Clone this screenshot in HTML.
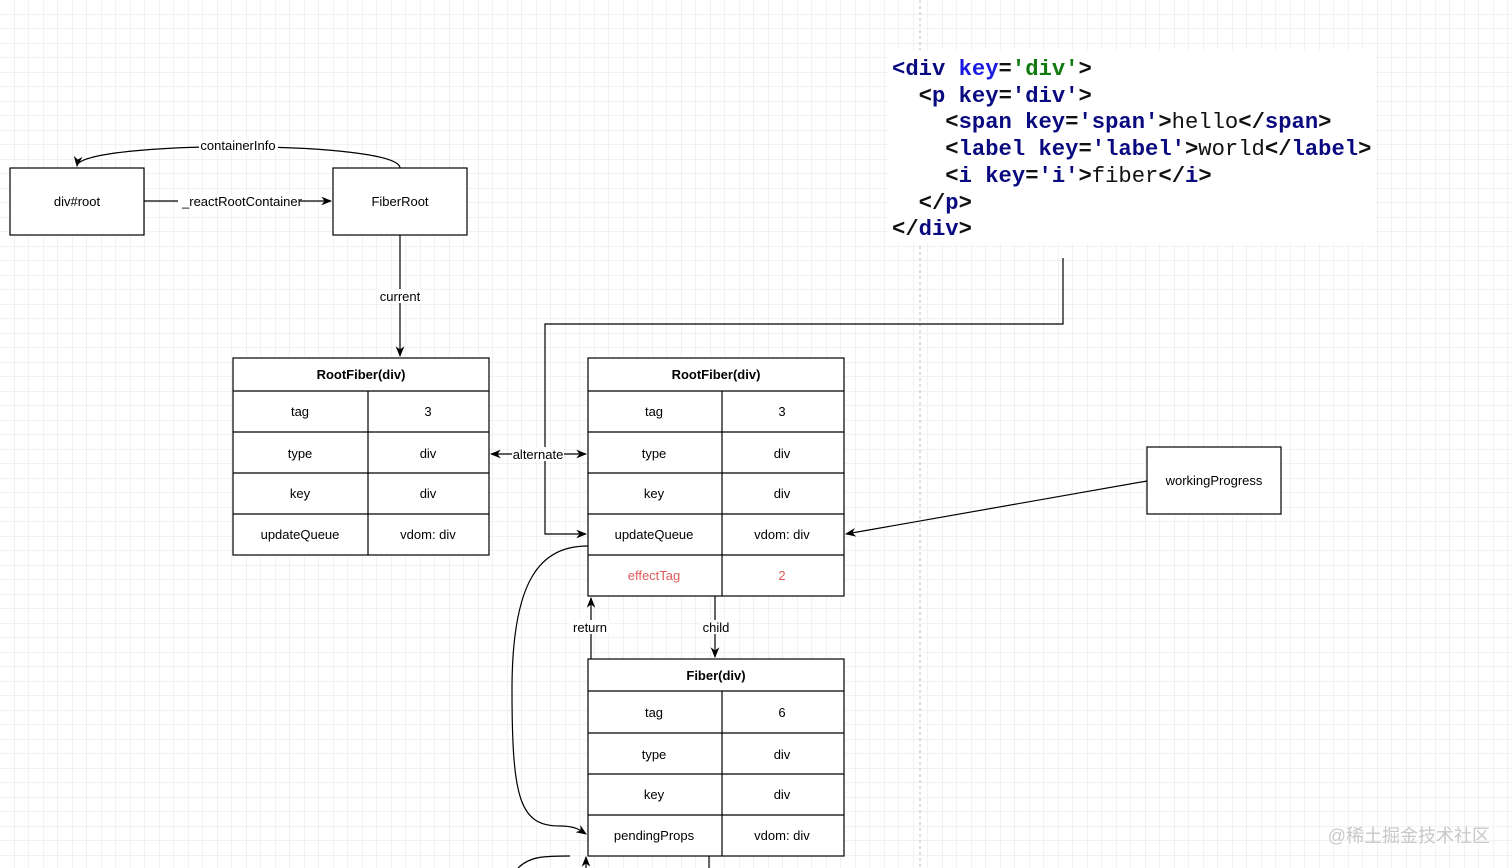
<!DOCTYPE html>
<html><head><meta charset="utf-8"><style>
html,body{margin:0;padding:0;width:1512px;height:868px;overflow:hidden;background:#fff;}
svg{display:block;font-family:"Liberation Sans",sans-serif;}
.code{position:absolute;left:888px;top:50px;width:488px;height:193px;background:#fff;font-family:"Liberation Mono",monospace;font-size:22.2px;font-weight:bold;line-height:26.7px;color:#111;white-space:pre;padding-top:7px;box-sizing:border-box;padding-left:4px}
.t{color:#0a0a80}.k{color:#1a1ae0}.g{color:#107a10}.n{font-weight:normal;color:#111}
.wm{position:absolute;right:22px;top:822px;font-family:"Liberation Sans","Noto Sans CJK SC",sans-serif;font-size:18px;color:#c8c8c8}
</style></head><body>
<svg width="1512" height="868" xmlns="http://www.w3.org/2000/svg">
<defs>
<pattern id="g" width="14.5" height="14.5" patternUnits="userSpaceOnUse"><path d="M14.5 0V14.5H0" fill="none" stroke="#e6e6e6" stroke-width="1"/></pattern>
<marker id="a" viewBox="0 0 10 10" refX="9" refY="5" markerWidth="9" markerHeight="9" orient="auto-start-reverse"><path d="M0,1 L10,5 L0,9 L3,5z" fill="#000"/></marker>
</defs>
<rect width="1512" height="868" fill="url(#g)"/>
<line x1="920" y1="0" x2="920" y2="868" stroke="#bbb" stroke-dasharray="3,3"/>
<g fill="none" stroke="#000" stroke-width="1.2">
<rect x="10" y="168" width="134" height="67" fill="#fff"/>
<rect x="333" y="168" width="134" height="67" fill="#fff"/>
<rect x="1147" y="447" width="134" height="67" fill="#fff"/>
<path d="M400,168 C400,140 80,140 77,166" marker-end="url(#a)"/>
<line x1="144" y1="201" x2="331" y2="201" marker-end="url(#a)"/>
<line x1="400" y1="235" x2="400" y2="356" marker-end="url(#a)"/>
<line x1="491" y1="454" x2="586" y2="454" marker-end="url(#a)" marker-start="url(#a)"/>
<path d="M1063,258 V324 H545 V534 H586" marker-end="url(#a)"/>
<line x1="1147" y1="481" x2="846" y2="534" marker-end="url(#a)"/>
<line x1="715" y1="596" x2="715" y2="657" marker-end="url(#a)"/>
<line x1="591" y1="659" x2="591" y2="598" marker-end="url(#a)"/>
<path d="M588,546 C540,546 512,580 512,690 C512,800 520,826 560,826 C575,826 580,830 586,834" marker-end="url(#a)"/>
<path d="M518,868 C530,856 545,856 570,856" />
<line x1="586" y1="868" x2="586" y2="857" marker-end="url(#a)"/>
<line x1="709" y1="856" x2="709" y2="868"/>
<rect x="233" y="358" width="256" height="197" fill="#fff"/>
<path d="M233,391H489M233,432H489M233,473H489M233,514H489M368,391V555"/>
<rect x="588" y="358" width="256" height="238" fill="#fff"/>
<path d="M588,391H844M588,432H844M588,473H844M588,514H844M588,555H844M722,391V596"/>
<rect x="588" y="659" width="256" height="197" fill="#fff"/>
<path d="M588,691H844M588,733H844M588,774H844M588,815H844M722,691V856"/>
</g>
<g font-size="13" text-anchor="middle" fill="#000">
<rect x="199" y="139" width="79" height="14" fill="#fff"/><text x="238" y="150">containerInfo</text>
<rect x="178" y="194" width="122" height="14" fill="#fff"/><text x="242" y="206">_reactRootContainer</text>
<rect x="378" y="289" width="44" height="14" fill="#fff"/><text x="400" y="301">current</text>
<rect x="512" y="447" width="52" height="14" fill="#fff"/><text x="538" y="459">alternate</text>
<rect x="570" y="620" width="40" height="14" fill="#fff"/><text x="590" y="632">return</text>
<rect x="700" y="620" width="32" height="14" fill="#fff"/><text x="716" y="632">child</text>
<text x="77" y="206">div#root</text>
<text x="400" y="206">FiberRoot</text>
<text x="1214" y="485">workingProgress</text>
<text x="361" y="379" font-weight="bold">RootFiber(div)</text>
<text x="300" y="416">tag</text><text x="428" y="416">3</text>
<text x="300" y="458">type</text><text x="428" y="458">div</text>
<text x="300" y="498">key</text><text x="428" y="498">div</text>
<text x="300" y="539">updateQueue</text><text x="428" y="539">vdom: div</text>
<text x="716" y="379" font-weight="bold">RootFiber(div)</text>
<text x="654" y="416">tag</text><text x="782" y="416">3</text>
<text x="654" y="458">type</text><text x="782" y="458">div</text>
<text x="654" y="498">key</text><text x="782" y="498">div</text>
<text x="654" y="539">updateQueue</text><text x="782" y="539">vdom: div</text>
<text x="654" y="580" fill="#e05a5a">effectTag</text><text x="782" y="580" fill="#e05a5a">2</text>
<text x="716" y="680" font-weight="bold">Fiber(div)</text>
<text x="654" y="717">tag</text><text x="782" y="717">6</text>
<text x="654" y="759">type</text><text x="782" y="759">div</text>
<text x="654" y="799">key</text><text x="782" y="799">div</text>
<text x="654" y="840">pendingProps</text><text x="782" y="840">vdom: div</text>
</g>
</svg>
<div class="code"><span class="t">&lt;div</span> <span class="k">key</span>=<span class="g">'div'</span>&gt;
  &lt;<span class="t">p</span> <span class="t">key</span>=<span class="t">'div'</span>&gt;
    &lt;<span class="t">span</span> <span class="t">key</span>=<span class="t">'span'</span>&gt;<span class="n">hello</span>&lt;/<span class="t">span</span>&gt;
    &lt;<span class="t">label</span> <span class="t">key</span>=<span class="t">'label'</span>&gt;<span class="n">world</span>&lt;/<span class="t">label</span>&gt;
    &lt;<span class="t">i</span> <span class="t">key</span>=<span class="t">'i'</span>&gt;<span class="n">fiber</span>&lt;/<span class="t">i</span>&gt;
  &lt;/<span class="t">p</span>&gt;
&lt;/<span class="t">div</span>&gt;</div>
<div class="wm">@稀土掘金技术社区</div>
</body></html>
